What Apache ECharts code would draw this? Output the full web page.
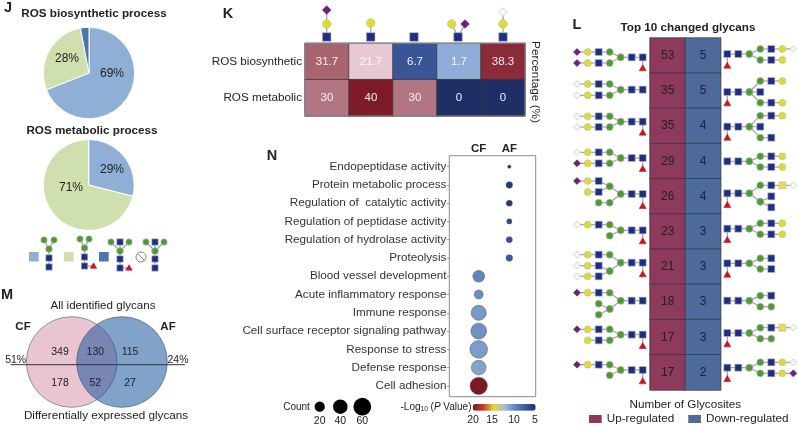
<!DOCTYPE html>
<html><head><meta charset="utf-8">
<style>html,body{margin:0;padding:0;background:#fff}#c{width:798px;height:426px}</style>
<script src="https://cdn.jsdelivr.net/npm/echarts@6/dist/echarts.min.js"></script>
</head><body><div id="c"></div>
<script>
// ---------- data ----------
const pieNames = ['Complex/hybrid', 'Fucosylated', 'Bisecting', 'Other'];
const pieBio = [69, 28, 3];
const pieMet = [29, 71];
const kRows = ['ROS biosynthetic', 'ROS metabolic'];
const kCols = ['G1', 'G2', 'G3', 'G4', 'G5'];
const kBio = [31.7, 21.7, 6.7, 1.7, 38.3];
const kMet = [30, 40, 30, 0, 0];
const nTerms = ['Endopeptidase activity', 'Protein metabolic process', 'Regulation of  catalytic activity',
  'Regulation of peptidase activity', 'Regulation of hydrolase activity', 'Proteolysis',
  'Blood vessel development', 'Acute inflammatory response', 'Immune response',
  'Cell surface receptor signaling pathway', 'Response to stress', 'Defense response', 'Cell adhesion'];
const nGroups = ['CF', 'AF'];
const nGroupOf = [1, 1, 1, 1, 1, 1, 0, 0, 0, 0, 0, 0, 0];
const nCounts = [2, 8, 7, 5, 7, 8, 26, 15, 43, 47, 59, 41, 57];
const nLogP = [5, 5.5, 5.7, 6.5, 7, 7.5, 10, 10.3, 10.8, 10.5, 11, 11.3, 20];
const nCountTicks = [20, 40, 60];
const nColorTicks = [20, 15, 10, 5];
const lRows = ['1', '2', '3', '4', '5', '6', '7', '8', '9', '10'];
const lUp = [53, 35, 35, 29, 26, 23, 21, 18, 17, 17];
const lDown = [5, 5, 4, 4, 4, 3, 3, 3, 3, 2];
const vennTop = [349, 130, 115];
const vennBottom = [178, 52, 27];
const vennPct = ['51%', '24%'];

// ---------- style ----------
const FF = '"Liberation Sans", Arial, sans-serif';
const kColors = [['#A8656F', '#E8C8D5', '#3A5595', '#8FADD6', '#8B2A38'],
                 ['#B27582', '#7D1C28', '#B27582', '#1F2F66', '#1F2F66']];
const PIE = ['#8FAFD6', '#CFDFAE', '#4F73AD'];
const gfx = [];
function T(text, x, y, size, o) {
  o = o || {};
  gfx.push({type: 'text', x, y, rotation: o.rot || 0, silent: true, z: 20,
    style: {text, fill: o.fill || '#222', font: (o.bold ? 'bold ' : '') + size + 'px ' + FF,
      align: o.align || 'center', verticalAlign: 'middle', textAlign: o.align || 'center', textVerticalAlign: 'middle', rich: o.rich}});
}
const NC = {s: '#1E2E85', g: '#4E9A32', y: '#DDDD2E', Y: '#E6E04A', t: '#C8161E', p: '#6E1F7E', w: '#F4F8FB'};
function glycan(chains, xs, yScale, sz) {
  const parse = n => { const m = n.match(/^(\w)(\d):([\d.]+)$/); return {k: m[1], x: xs[+m[2]], y: +m[3] / yScale}; };
  const nodes = [];
  chains.forEach(c => {
    const ns = c.split(' ').map(parse);
    for (let i = 1; i < ns.length; i++) gfx.push({type: 'line', silent: true, z: 10,
      shape: {x1: ns[i - 1].x, y1: ns[i - 1].y, x2: ns[i].x, y2: ns[i].y}, style: {stroke: '#a0a0a0', lineWidth: 1.2}});
    nodes.push(...ns);
  });
  nodes.forEach(n => {
    const h = sz / 2, st = {fill: NC[n.k], stroke: (n.k === 't' || n.k === 'p') ? NC[n.k] : '#b8b8b8', lineWidth: 0.6};
    if (n.k === 's' || n.k === 'Y') gfx.push({type: 'rect', silent: true, z: 11, shape: {x: n.x - h, y: n.y - h, width: sz, height: sz}, style: st});
    else if (n.k === 'g' || n.k === 'y') gfx.push({type: 'circle', silent: true, z: 11, shape: {cx: n.x, cy: n.y, r: h}, style: st});
    else if (n.k === 't') gfx.push({type: 'polygon', silent: true, z: 11, shape: {points: [[n.x, n.y - h], [n.x + h, n.y + h - 1], [n.x - h, n.y + h - 1]]}, style: st});
    else gfx.push({type: 'polygon', silent: true, z: 11, shape: {points: [[n.x, n.y - h], [n.x + h, n.y], [n.x, n.y + h], [n.x - h, n.y]]}, style: st});
  });
}
// Panel letters and titles
T('J', 8, 8, 14.5, {bold: 1}); T('K', 228, 14, 14.5, {bold: 1}); T('L', 577, 25, 14.5, {bold: 1});
T('M', 7, 295, 14.5, {bold: 1}); T('N', 272, 156, 14.5, {bold: 1});
T('ROS biosynthetic process', 94, 14, 11.7, {bold: 1});
T('ROS metabolic process', 92, 131, 11.7, {bold: 1});
T('Top 10 changed glycans', 688, 28, 11.7, {bold: 1});
T('Percentage (%)', 535, 82, 11.8, {rot: -Math.PI / 2});

// J legend
[[29, 0], [64, 1], [99, 2]].forEach(a => gfx.push({type: 'rect', silent: true, shape: {x: a[0], y: 252, width: 9.7, height: 9.5}, style: {fill: PIE[a[1]]}}));
gfx.push({type: 'circle', silent: true, shape: {cx: 141, cy: 257, r: 5}, style: {fill: '#fff', stroke: '#777', lineWidth: 0.9}});
gfx.push({type: 'line', silent: true, shape: {x1: 137.6, y1: 253.6, x2: 144.4, y2: 260.4}, style: {stroke: '#777', lineWidth: 0.9}});
glycan(['g0:240 g1:249 s1:258 s1:267', 'g2:240 g1:249'], [44, 49, 54], 1, 6.4);
glycan(['g0:239 g1:248 s1:257 s1:266 t3:266', 'g2:239 g1:248'], [80, 84.5, 89, 93.5], 1, 6.4);
glycan(['g0:242 g1:251 s1:259 s1:268 t2:268', 's1:242 g1:251', 'g2:242 g1:251'], [111, 120, 129], 1, 6.4);
glycan(['g0:242 g1:251 s1:259 s1:268', 's1:242 g1:251', 'g2:242 g1:251'], [146, 155, 164], 1, 6.4);

// K glycans
glycan(['s0:37 y0:24 p0:10', 's1:37 y1:23', 's2:37', 'y3:24 s4:37 p5:24', 's6:37 y6:24 w6:12'],
  [326.7, 370.7, 414, 451.7, 458, 465, 503], 1, 8.6);
gfx.push({type: 'rect', silent: true, z: 9, shape: {x: 305, y: 43.3, width: 220, height: 72.7}, style: {fill: 'none', stroke: '#8a8a8a', lineWidth: 1}});

// L glycans
const LX = [577, 587.7, 598.7, 609.7, 620.7, 631.7, 642.7];
const RX = [727.3, 738.3, 749.3, 760.3, 771.3, 782.3, 793.3];
const lLeft = [
 ['p0:156 y1:156 s2:156 g3:156 g4:172 s5:172 s6:172 t6:205', 'p0:189 y1:189 s2:189 g3:189 g4:172'],
 ['w0:252 y1:252 s2:252 g3:252 g4:269 s5:269 s6:269', 'w0:286 y1:286 s2:286 g3:286 g4:269'],
 ['w0:349 y1:349 s2:349 g3:349 g4:365 s5:365 s6:365 t6:398', 'w0:381 y1:381 s2:381 g3:381 g4:365'],
 ['w0:457 y1:457 s2:457 g3:457 g4:474 s5:474 s6:474 t6:507', 'p0:490 y1:490 s2:490 g3:490 g4:474'],
 ['p0:543 y1:543 s2:543 g3:559 g4:582 s5:582 s6:582 t6:618', 'y1:576 s2:576 g3:559', 'g2:608 g3:608 g4:582'],
 ['w0:674 y1:674 s2:674 g3:674 g4:691 s5:691 s6:691 t6:724', 'g3:707 g4:691'],
 ['w0:764 y1:764 s2:764 g3:764 g4:788 s5:788 s6:788 t6:823', 'w0:797 y1:797 s2:797 g3:813 g4:788', 'w0:829 y1:829 s2:829 g3:813'],
 ['p0:878 y1:878 s2:878 g3:878 g4:902 s5:902 s6:902', 'g2:911 g3:927 g4:902', 'g2:944 g3:927'],
 ['p0:988 y1:988 s2:988 g3:988 g4:1004 s5:1004 s6:1004 t6:1038', 'y1:1021 s2:1021 g3:1021 g4:1004'],
 ['p0:1094 y1:1094 s2:1094 g3:1094 g4:1110 s5:1110 s6:1110 t6:1144', 'g3:1126 g4:1110']
];
const lRight = [
 ['t0:197 s0:162 s1:162 g2:162 g3:147 s4:147 y5:147 w6:147', 'g2:162 g3:180 s4:180 y5:180'],
 ['t0:310 s0:276 s1:276 g2:276 g3:243 s4:243 y5:243', 'g2:276 s3:276', 'g2:276 g3:308 s4:308 y5:308'],
 ['t0:413 s0:380 s1:380 g2:380 g3:347 s4:347 y5:347', 'g2:380 s3:380', 'g2:380 g3:413 s4:413'],
 ['s0:484 s1:484 g2:484 g3:469 s4:469 y5:469', 'g2:484 g3:501 s4:501 y5:501'],
 ['t0:615 s0:580 s1:580 g2:580 g3:556 s4:556 Y5:556 w6:556', 'g2:580 g3:605 s4:589', 'g3:605 s4:622'],
 ['t0:720 s0:686 s1:686 g2:686 g3:670 s4:670 y5:670', 'g2:686 g3:703 s4:703 y5:703'],
 ['t0:824 s0:790 s1:790 g2:790 g3:775 s4:775', 'g2:790 g3:807 s4:807'],
 ['s0:902 s1:902 g2:902 g3:887 s4:887', 'g2:902 g3:920 g4:920'],
 ['t0:1033 s0:999 s1:999 g2:999 g3:983 s4:983 Y5:983 w6:983', 'g2:999 g3:1016 g4:1016'],
 ['t0:1137 s0:1103 s1:1103 g2:1103 g3:1087 s4:1087 y5:1087 w6:1087', 'g2:1103 g3:1120 s4:1120 y5:1120 p6:1120']
];
lLeft.forEach(c => glycan(c, LX, 3, 7));
lRight.forEach(c => glycan(c, RX, 3, 7));

// M venn
gfx.push({type: 'circle', silent: true, shape: {cx: 71.7, cy: 362, r: 45.3}, style: {fill: '#E8C5D0', stroke: '#6d6d6d', lineWidth: 0.7}});
gfx.push({type: 'circle', silent: true, shape: {cx: 122, cy: 362, r: 45.3}, style: {fill: 'rgba(5,71,147,0.5)', stroke: '#4d5d7d', lineWidth: 0.7}});
gfx.push({type: 'line', silent: true, z: 8, shape: {x1: 10.7, y1: 364.7, x2: 185, y2: 364.7}, style: {stroke: '#333', lineWidth: 1}});
T('All identified glycans', 103, 306, 11.6, {});
T('Differentially expressed glycans', 106, 416, 11.7, {});
T('CF', 23, 327, 11.5, {bold: 1}); T('AF', 168, 327, 11.5, {bold: 1});
[60, 95.3, 130].forEach((x, i) => { T(String(vennTop[i]), x, 352, 10.5); T(String(vennBottom[i]), x, 383, 10.5); });
T(vennPct[0], 15.7, 360, 10.5); T(vennPct[1], 178, 360, 10.5);

// N legends
T('Count', 296.5, 407, 10);
[319.7, 340.3, 362.3].forEach((x, i) => {
  gfx.push({type: 'circle', silent: true, shape: {cx: x, cy: 406.7, r: 2.3 * Math.sqrt(nCountTicks[i]) / 2}, style: {fill: '#000'}});
  T(String(nCountTicks[i]), x, 421, 10.5);
});
[473, 492, 514, 535].forEach((x, i) => T(String(nColorTicks[i]), x, 420, 10.5));
gfx.push({type: 'text', silent: true, z: 20, x: 471.5, y: 407,
  style: {text: '-Log{s|10} ({i|P} Value)', fill: '#222', font: '10px ' + FF, align: 'right', verticalAlign: 'middle', textAlign: 'right', textVerticalAlign: 'middle',
    rich: {s: {fontSize: 6.5, verticalAlign: 'bottom', padding: [5, 0, 0, 0], fontFamily: FF, fill: '#222'}, i: {fontStyle: 'italic', fontSize: 10, fontFamily: FF, fill: '#222'}}}});
gfx.push({type: 'rect', silent: true, z: 1, shape: {x: 449.3, y: 155.7, width: 86.4, height: 241}, style: {fill: '#fff', stroke: '#8a8a8a', lineWidth: 1}});

const pieLabel = (pos) => ({
  labelLine: {show: false},
  label: {show: true, position: 'inside', formatter: p => (pos[p.dataIndex] ? p.value + '%' : ''), fontSize: 12, fontFamily: FF, color: '#222'},
  labelLayout: p => (pos[p.dataIndex] ? {x: pos[p.dataIndex][0], y: pos[p.dataIndex][1], align: 'center', verticalAlign: 'middle'} : {})
});
const axisOff = {axisLine: {show: false}, axisTick: {show: false}, axisLabel: {show: false}, splitLine: {show: false}};

const option = {
  animation: false,
  backgroundColor: '#fff',
  textStyle: {fontFamily: FF},
  graphic: {elements: gfx},
  legend: {left: 589, top: 413, icon: 'rect', itemWidth: 12.7, itemHeight: 8, itemGap: 14, padding: 0,
    data: ['Up-regulated', 'Down-regulated'], selectedMode: false, itemStyle: {borderWidth: 0},
    textStyle: {fontSize: 11.7, fontFamily: FF, color: '#222'}},
  visualMap: {type: 'continuous', min: 5, max: 20, dimension: 3, seriesIndex: 5, orient: 'horizontal', inverse: true,
    left: 472.7, top: 404, itemWidth: 6.7, itemHeight: 63, padding: 0, calculable: false, text: null, showLabel: false, hoverLink: false,
    inRange: {color: ['#1E2F72', '#3A5BA0', '#5F86BD', '#A9C0D8', '#E3D82E', '#C93A28', '#7A1A22']}},
  grid: [
    {left: 305, top: 43.3, width: 220, height: 72.7},
    {left: 463.4, top: 157.5, width: 61.2, height: 237.5},
    {left: 650, top: 38, width: 70.7, height: 352}
  ],
  xAxis: [
    Object.assign({type: 'category', gridIndex: 0, data: kCols}, axisOff),
    {type: 'category', gridIndex: 1, data: nGroups, position: 'top', axisLine: {show: false}, axisTick: {show: false}, splitLine: {show: false},
      axisLabel: {fontSize: 11.5, fontWeight: 'bold', color: '#222', margin: 3, fontFamily: FF}},
    Object.assign({type: 'category', gridIndex: 2, data: ['Up-regulated', 'Down-regulated'], name: 'Number of Glycosites', nameLocation: 'middle', nameGap: 9,
      nameTextStyle: {fontSize: 11.7, color: '#222', fontFamily: FF}}, axisOff)
  ],
  yAxis: [
    {type: 'category', gridIndex: 0, data: kRows, inverse: true, axisLine: {show: false}, axisTick: {show: false}, splitLine: {show: false},
      axisLabel: {fontSize: 11.7, color: '#222', margin: 3, fontFamily: FF}},
    {type: 'category', gridIndex: 1, data: nTerms, inverse: true, offset: 14, axisLine: {show: false}, splitLine: {show: false},
      axisTick: {show: true, length: 2.5, alignWithLabel: true, lineStyle: {color: '#888', width: 0.8}},
      axisLabel: {fontSize: 11.7, color: '#333', margin: 3, fontFamily: FF}},
    Object.assign({type: 'category', gridIndex: 2, data: lRows, inverse: true}, axisOff)
  ],
  series: [
    Object.assign({type: 'pie', name: 'ROS biosynthetic process', center: [89, 73], radius: [0, 45.7], startAngle: 90, silent: true,
      itemStyle: {borderColor: '#fff', borderWidth: 1},
      data: pieBio.map((v, i) => ({value: v, name: pieNames[i], itemStyle: {color: PIE[i]}}))}, pieLabel([[112, 74], [67, 59], null])),
    Object.assign({type: 'pie', name: 'ROS metabolic process', center: [88.7, 185], radius: [0, 45.5], startAngle: 90, silent: true,
      itemStyle: {borderColor: '#fff', borderWidth: 1},
      data: pieMet.map((v, i) => ({value: v, name: pieNames[i], itemStyle: {color: PIE[i]}}))}, pieLabel([[112, 170], [71, 188]])),
    {type: 'heatmap', name: 'ROS glycans', xAxisIndex: 0, yAxisIndex: 0, silent: true,
      data: [kBio, kMet].flatMap((row, r) => row.map((v, c) => ({value: [c, r, v], itemStyle: {color: kColors[r][c]}}))),
      itemStyle: {borderColor: '#33343a', borderWidth: 0.7},
      label: {show: true, color: 'rgba(255,255,255,0.92)', fontSize: 11.5, fontFamily: FF, formatter: p => String(p.value[2])}},
    {type: 'heatmap', name: 'Up-regulated', xAxisIndex: 2, yAxisIndex: 2, silent: true,
      data: lUp.map((v, r) => [0, r, v]), itemStyle: {color: '#8E3A5C', borderColor: '#33343f', borderWidth: 0.7},
      label: {show: true, color: '#222', fontSize: 12, fontFamily: FF, formatter: p => String(p.value[2])}},
    {type: 'heatmap', name: 'Down-regulated', xAxisIndex: 2, yAxisIndex: 2, silent: true,
      data: lDown.map((v, r) => [1, r, v]), itemStyle: {color: '#4D6A9A', borderColor: '#33343f', borderWidth: 0.7},
      label: {show: true, color: '#222', fontSize: 12, fontFamily: FF, formatter: p => String(p.value[2])}},
    {type: 'scatter', name: 'Enrichment', xAxisIndex: 1, yAxisIndex: 1, silent: true, z: 5,
      data: nTerms.map((t, i) => [nGroupOf[i], i, nCounts[i], nLogP[i]]),
      symbolSize: d => 2.3 * Math.sqrt(d[2]),
      itemStyle: {borderColor: '#4a4f5a', borderWidth: 0.5, opacity: 1}}
  ]
};
const chart = echarts.init(document.getElementById('c'), null, {renderer: 'canvas', width: 798, height: 426});
chart.setOption(option);
</script></body></html>
